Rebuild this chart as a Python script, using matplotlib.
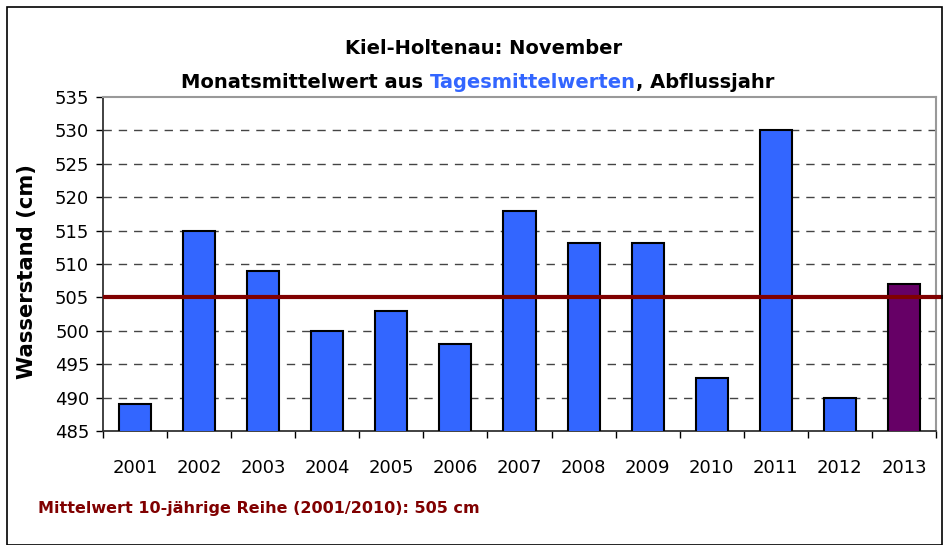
import matplotlib.pyplot as plt
from matplotlib.patches import Rectangle

plt.rcParams['font.family'] = ['DejaVu Sans']

years = ['2001', '2002', '2003', '2004', '2005', '2006', '2007',
         '2008', '2009', '2010', '2011', '2012', '2013']
values = [489, 515, 509, 500, 503, 498, 518, 513.2, 513.2, 493, 530, 490, 507]
colors = ['#3366FF'] * 12 + ['#660066']
mean_value = 505

fig = plt.figure(figsize=(9.43, 5.45), dpi=100)
ax = fig.add_axes([103 / 943, 1 - 431 / 545, 833 / 943, 334 / 545])

x = range(len(years))
ax.bar(x, values, width=0.5, bottom=0, color=colors, edgecolor='black',
       linewidth=1.5, zorder=3)
ax.set_ylim(485, 535)
ax.set_xlim(-0.5, len(years) - 0.5)
ax.set_yticks(range(485, 536, 5))
ax.tick_params(axis='y', labelsize=13, direction='out', length=5, width=1, pad=5)
ax.set_xticks(x)
ax.set_xticklabels(years, fontsize=13)
ax.tick_params(axis='x', length=0, pad=20)
ax.set_xticks([i + 0.5 for i in range(-1, len(years))], minor=True)
ax.tick_params(axis='x', which='minor', length=5, width=1, direction='out')

for y in range(490, 531, 5):
    ax.axhline(y, color='#444444', linestyle=(0, (6, 5)), linewidth=1, zorder=1)

ax.plot([-0.5 + 2 / 64, len(years) - 0.5 + 7 / 64], [mean_value, mean_value],
        color='#800000', linewidth=3, zorder=4, clip_on=False)

for s in ['left', 'bottom']:
    ax.spines[s].set_color('#333333')
    ax.spines[s].set_linewidth(1.3)
for s in ['top', 'right']:
    ax.spines[s].set_color('#999999')
    ax.spines[s].set_linewidth(1.5)

ax.set_ylabel('Wasserstand (cm)', fontsize=15.2, fontweight='bold', va='center')
ax.yaxis.set_label_coords(-0.091, 0.479)

fig.text(0.513, 1 - 48 / 545, 'Kiel-Holtenau: November', ha='center', va='center',
         fontsize=14, fontweight='bold')

t1 = fig.text(181 / 943, 1 - 82 / 545, 'Monatsmittelwert aus ', va='center',
              fontsize=14, fontweight='bold')
t2 = ax.annotate('Tagesmittelwerten', xy=(1, 0), xycoords=t1, va='bottom',
                 fontsize=14, fontweight='bold', color='#3366FF',
                 annotation_clip=False)
ax.annotate(', Abflussjahr', xy=(1, 0), xycoords=t2, va='bottom',
            fontsize=14, fontweight='bold', annotation_clip=False)

fig.text(38 / 943, 1 - 508 / 545, 'Mittelwert 10-jährige Reihe (2001/2010): 505 cm',
         va='center', fontsize=11.5, fontweight='bold', color='#800000')

fig.patches.append(Rectangle((7 / 943, 0), 935 / 943, 1 - 7 / 545,
                             transform=fig.transFigure, fill=False,
                             edgecolor='black', linewidth=1.2))

fig.savefig('out.png', dpi=100)
